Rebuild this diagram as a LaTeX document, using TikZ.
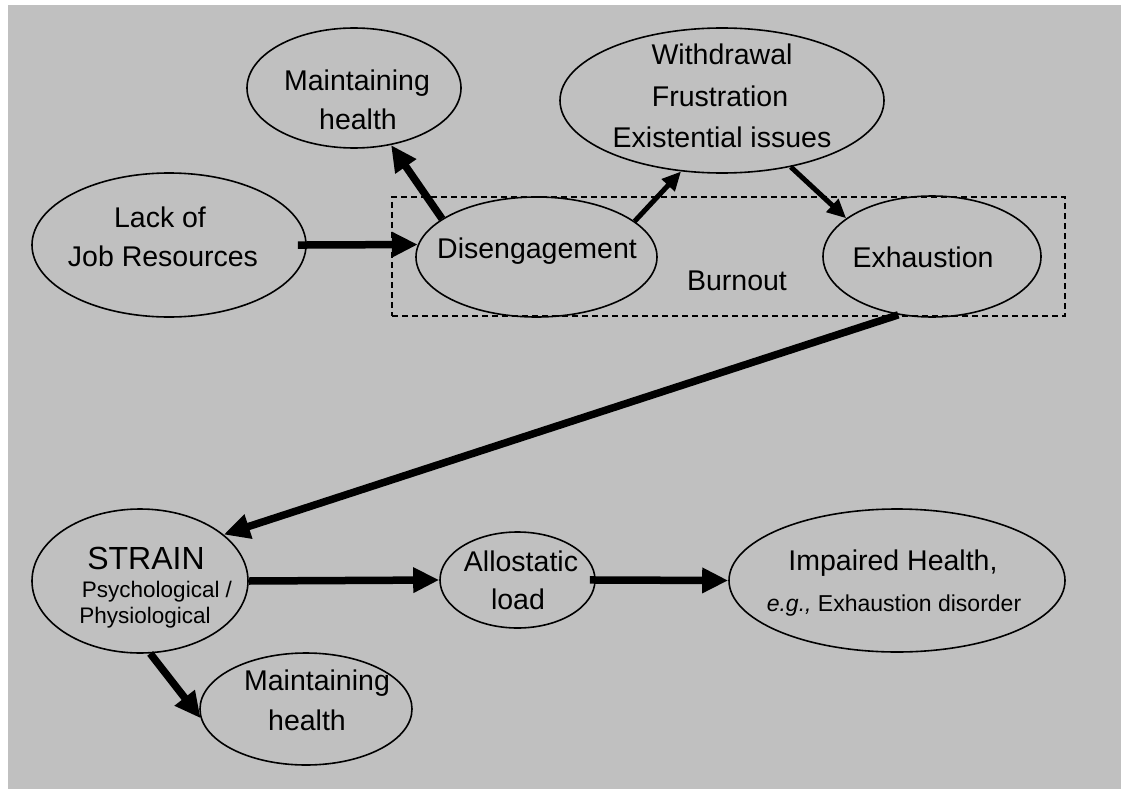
\documentclass[tikz,border=0pt]{standalone}
\usepackage{fontspec}
\setmainfont{Liberation Sans}
\usetikzlibrary{shapes.geometric,arrows.meta}
\definecolor{bggray}{RGB}{192,192,192}
\tikzset{
  ell/.style={draw, line width=1.6pt, ellipse, inner sep=0pt},
  txt/.style={anchor=base, inner sep=0pt, font=\fontsize{28.5}{34}\selectfont},
  smalltxt/.style={anchor=base, inner sep=0pt, font=\fontsize{22.5}{27}\selectfont},
  midtxt/.style={anchor=base, inner sep=0pt, font=\fontsize{23}{28}\selectfont},
  bigtxt/.style={anchor=base, inner sep=0pt, font=\fontsize{32}{38}\selectfont},
  bigarrow/.style={line width=7.5pt, -{Triangle[length=26pt,width=24pt]}},
  thinarrow/.style={line width=5pt, -{Triangle[length=19pt,width=17pt]}},
  dashbox/.style={draw, line width=1.5pt, dash pattern=on 6pt off 4pt, inner sep=0pt, rectangle}
}
\begin{document}
\begin{tikzpicture}[x=1pt,y=-1pt]
\useasboundingbox (0,0) rectangle (1121,789);
\fill[white] (0,0) rectangle (1121,789);
\fill[bggray] (8,5) rectangle (1121,789);

% burnout box
\node[dashbox, minimum width=673pt, minimum height=119pt] (burnbox) at (728.5,256.5) {};
\node[txt] (burnout) at (737,290) {Burnout};

% ellipses
\node[ell, minimum width=214pt, minimum height=120pt] (mt) at (354,88) {};
\node[ell, minimum width=324pt, minimum height=145pt] (wd) at (722,100.5) {};
\node[ell, minimum width=274pt, minimum height=144pt] (lack) at (169,245) {};
\node[ell, minimum width=241pt, minimum height=120pt] (dis) at (536.5,257) {};
\node[ell, minimum width=218pt, minimum height=121pt] (exh) at (932,256.5) {};
\node[ell, minimum width=216pt, minimum height=144pt] (strain) at (140,581) {};
\node[ell, minimum width=155pt, minimum height=96pt] (allo) at (517.5,580) {};
\node[ell, minimum width=336pt, minimum height=143pt] (imp) at (897,580.5) {};
\node[ell, minimum width=212pt, minimum height=112pt] (mb) at (306,709) {};

% texts
\node[txt] (mt1) at (357,90.7) {Maintaining};
\node[txt] (mt2) at (358,130) {health};
\node[txt] (wd1) at (722,65) {Withdrawal};
\node[txt] (wd2) at (720,107) {Frustration};
\node[txt] (wd3) at (722,147) {Existential issues};
\node[txt] (lack1) at (160,227) {Lack of};
\node[txt] (lack2) at (163,266) {Job Resources};
\node[txt] (dis1) at (537,258) {Disengagement};
\node[txt] (exh1) at (923,267) {Exhaustion};
\node[bigtxt] (strain1) at (146,569) {STRAIN};
\node[smalltxt] (strain2) at (157,597) {Psychological /};
\node[smalltxt] (strain3) at (145,623) {Physiological};
\node[txt] (allo1) at (521,571) {Allostatic};
\node[txt] (allo2) at (518,609) {load};
\node[txt] (imp1) at (893,570) {Impaired Health,};
\node[midtxt] (imp2) at (894,611) {\textit{e.g.,} Exhaustion disorder};
\node[txt] (mb1) at (317,690) {Maintaining};
\node[txt] (mb2) at (307,730) {health};

% connectors
\draw[bigarrow, shorten <=-9pt] (lack.east) -- (dis.174);
\draw[bigarrow] (dis.158.6) -- (mt.303);
\draw[thinarrow] (dis.20.5) -- (wd.240);
\draw[thinarrow] (wd.316.9) -- (exh.156.2);
\draw[bigarrow] (exh.240.6) -- (strain.29.7);
\draw[bigarrow] (strain.east) -- (allo.west);
\draw[bigarrow, shorten <=-6pt] (allo.east) -- (imp.west);
\draw[bigarrow] (strain.278) -- (mb.185);
\end{tikzpicture}
\end{document}
